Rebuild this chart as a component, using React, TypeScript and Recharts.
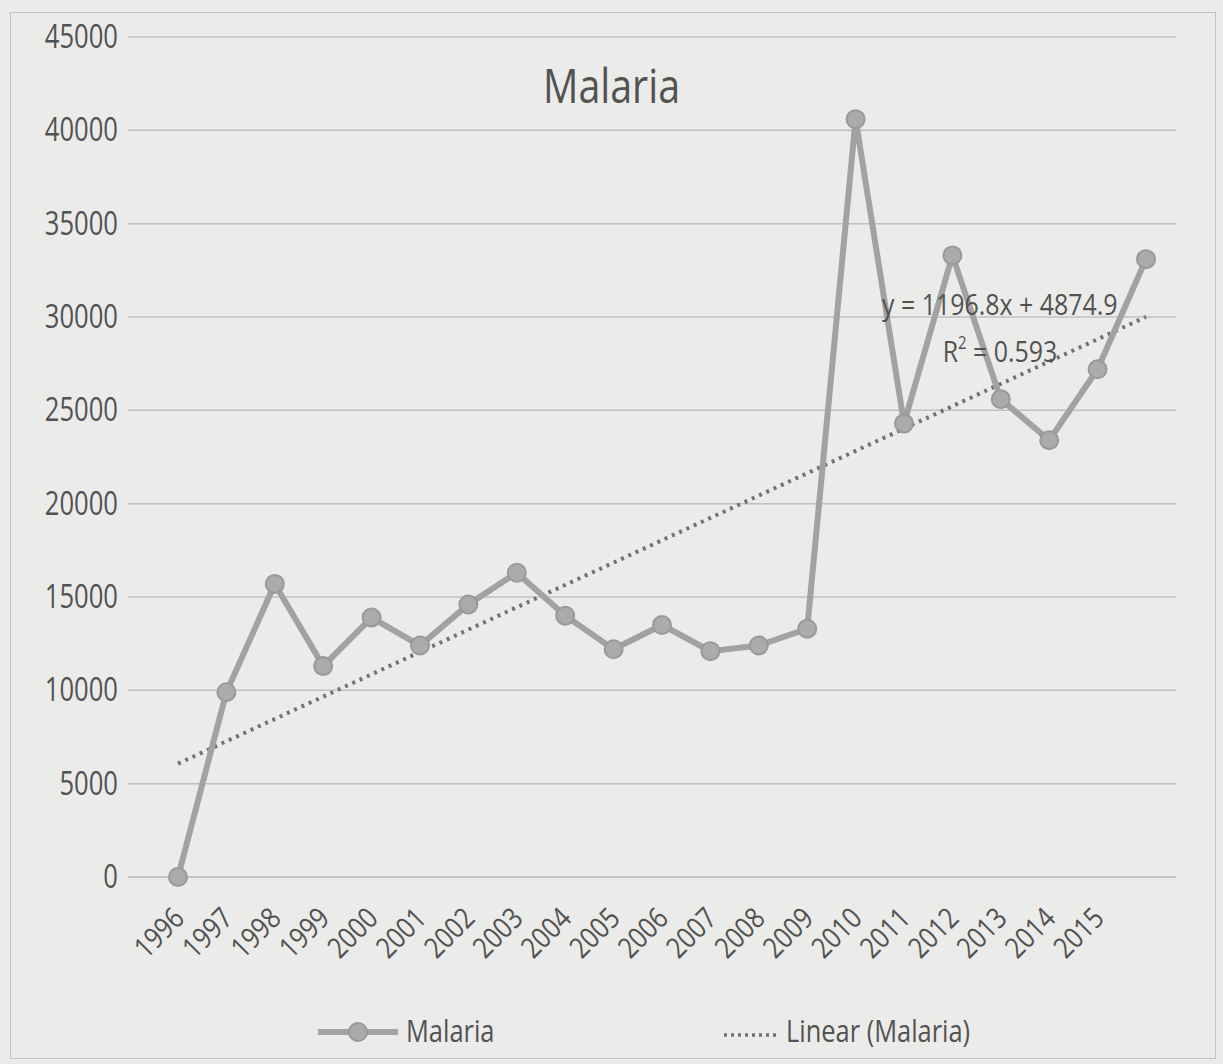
import React from 'react'
import { LineChart, Line, XAxis, YAxis, CartesianGrid } from 'recharts'

const years = [
  '1996', '1997', '1998', '1999', '2000', '2001', '2002', '2003', '2004', '2005',
  '2006', '2007', '2008', '2009', '2010', '2011', '2012', '2013', '2014', '2015', '',
]
const malaria = [
  0, 9900, 15700, 11300, 13900, 12400, 14600, 16300, 14000, 12200,
  13500, 12100, 12400, 13300, 40600, 24300, 33300, 25600, 23400, 27200, 33100,
]
// end points of the Excel linear trend line, y = 1196.8x + 4874.9
const trendEnds = [6072, 30008]
const yTicks = [0, 5000, 10000, 15000, 20000, 25000, 30000, 35000, 40000, 45000]

const data = years.map((year, i) => ({
  year,
  malaria: malaria[i],
  trend: i === 0 ? trendEnds[0] : i === years.length - 1 ? trendEnds[1] : null,
}))

const FONT = "'Open Sans', sans-serif"
const TEXT = '#525252'
const LINE = '#a2a2a2'
const TREND = '#727272'

// the original uses a narrow font, so text is squeezed horizontally
function YTick({ x, y, payload }: any) {
  return (
    <text transform={`translate(${x},${y}) scale(0.8,1)`} dy={11} textAnchor="end" fill={TEXT} fontSize={32} fontFamily={FONT}>
      {payload.value}
    </text>
  )
}

function XTick({ x, y, payload }: any) {
  if (!payload.value) return null
  return (
    <g transform={`translate(${x + 8},${y + 35})`}>
      <text x={0} y={0} textAnchor="end" transform="rotate(-45) scale(0.85,1)" fill={TEXT} fontSize={29} fontFamily={FONT}>
        {payload.value}
      </text>
    </g>
  )
}

const squeeze = (s: number): React.CSSProperties => ({ display: 'inline-block', transform: `scaleX(${s})`, whiteSpace: 'nowrap' })

export default function App() {
  return (
    <div style={{ position: 'absolute', left: 0, top: 0, width: 1223, height: 1064, background: '#ebebe9', overflow: 'hidden' }}>
      <div style={{ position: 'absolute', left: 10, top: 12, width: 1204, height: 1045, border: '1px solid #c2c2c2' }} />
      <LineChart width={1223} height={1064} data={data} margin={{ top: 37, right: 47, bottom: 77, left: 28 }}>
        <CartesianGrid vertical={false} stroke="#c0c0c0" strokeWidth={1.5} />
        <XAxis
          dataKey="year"
          interval={0}
          tick={<XTick />}
          tickLine={false}
          axisLine={{ stroke: '#c0c0c0', strokeWidth: 1.5 }}
          height={110}
          padding={{ left: 50, right: 30 }}
        />
        <YAxis
          domain={[0, 45000]}
          ticks={yTicks}
          tick={<YTick />}
          tickLine={false}
          axisLine={false}
          width={100}
          tickMargin={10}
          tickSize={0}
        />
        <Line
          dataKey="trend"
          connectNulls
          stroke={TREND}
          strokeWidth={4}
          strokeDasharray="3 5"
          dot={false}
          isAnimationActive={false}
        />
        <Line
          dataKey="malaria"
          stroke={LINE}
          strokeWidth={6}
          dot={{ r: 9, fill: '#ababab', stroke: '#999', strokeWidth: 2 }}
          isAnimationActive={false}
        />
      </LineChart>
      <div style={{ position: 'absolute', left: 0, width: 1223, top: 52, textAlign: 'center', fontFamily: FONT, fontSize: 48, color: TEXT }}>
        <span style={{ ...squeeze(0.82), position: 'relative', left: 0 }}>Malaria</span>
      </div>
      <div style={{ position: 'absolute', left: 850, top: 280, width: 300, textAlign: 'center', fontFamily: FONT, fontSize: 30, color: TEXT, lineHeight: '47px' }}>
        <div><span style={squeeze(0.83)}>y = 1196.8x + 4874.9</span></div>
        <div>
          <span style={squeeze(0.83)}>
            R<sup style={{ fontSize: 18, verticalAlign: 'top', lineHeight: '30px' }}>2</sup> = 0.593
          </span>
        </div>
      </div>
      <div style={{ position: 'absolute', left: 316, top: 1009, display: 'flex', alignItems: 'center', fontFamily: FONT, fontSize: 31, color: TEXT }}>
        <svg width={84} height={30}>
          <line x1={2} y1={17} x2={82} y2={17} stroke={LINE} strokeWidth={6} />
          <circle cx={42} cy={17} r={9} fill="#ababab" stroke="#999" strokeWidth={2} />
        </svg>
        <span style={{ ...squeeze(0.82), transformOrigin: 'left center', marginLeft: 6 }}>Malaria</span>
      </div>
      <div style={{ position: 'absolute', left: 722, top: 1009, display: 'flex', alignItems: 'center', fontFamily: FONT, fontSize: 31, color: TEXT }}>
        <svg width={56} height={30}>
          <line x1={2} y1={20} x2={54} y2={20} stroke={TREND} strokeWidth={3.5} strokeDasharray="3 4" />
        </svg>
        <span style={{ ...squeeze(0.82), transformOrigin: 'left center', marginLeft: 8 }}>Linear (Malaria)</span>
      </div>
    </div>
  )
}
